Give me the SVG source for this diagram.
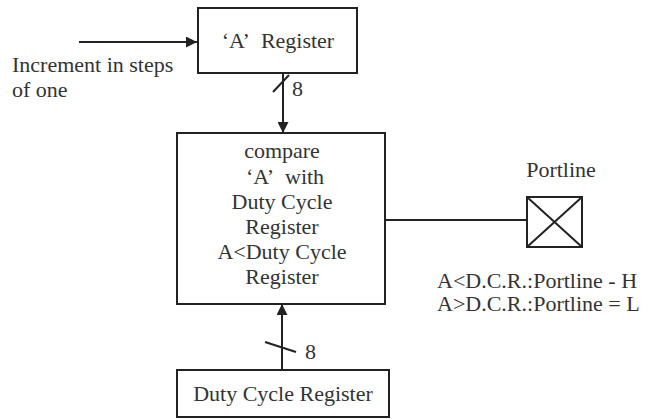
<svg xmlns="http://www.w3.org/2000/svg" width="655" height="419" viewBox="0 0 655 419">
<style>
.b{fill:#fff;stroke:#222;stroke-width:2}
.l{fill:none;stroke:#222;stroke-width:2}
text{font-family:"Liberation Serif","Times New Roman",serif;font-size:22px;fill:#333}
.c{text-anchor:middle}
</style>
<defs>
<marker id="ah" viewBox="0 0 10 10" refX="10" refY="5" markerWidth="5.5" markerHeight="5.5" orient="auto" markerUnits="strokeWidth">
<path d="M0,0 L10,5 L0,10 z" fill="#222"/>
</marker>
</defs>
<g id="connectors">
<line class="l" x1="79" y1="42" x2="197" y2="42" marker-end="url(#ah)"/>
<line class="l" x1="283" y1="73" x2="283" y2="133" marker-end="url(#ah)"/>
<line class="l" x1="273" y1="92" x2="289" y2="75"/>
<text x="292" y="96">8</text>
<line class="l" x1="282" y1="370" x2="282" y2="304" marker-end="url(#ah)"/>
<line class="l" x1="265" y1="342" x2="296" y2="352"/>
<text x="305" y="359">8</text>
<line class="l" x1="385" y1="220" x2="527" y2="220"/>
</g>
<g id="input-label">
<text x="12" y="72">Increment in steps</text>
<text x="12" y="97">of one</text>
</g>
<g id="a-register">
<rect class="b" x="198" y="8" width="159" height="65"/>
<text class="c" x="278" y="48">‘A’&#160; Register</text>
</g>
<g id="compare">
<rect class="b" x="177" y="133" width="208" height="171"/>
<text class="c" x="282" y="158">compare</text>
<text class="c" x="285" y="184">‘A’&#160; with</text>
<text class="c" x="282" y="209">Duty Cycle</text>
<text class="c" x="282" y="234">Register</text>
<text class="c" x="282" y="259">A&lt;Duty Cycle</text>
<text class="c" x="282" y="284">Register</text>
</g>
<g id="portline">
<text class="c" x="561" y="177">Portline</text>
<rect class="b" x="527" y="197" width="55" height="50"/>
<line class="l" x1="527" y1="197" x2="582" y2="247"/>
<line class="l" x1="582" y1="197" x2="527" y2="247"/>
</g>
<g id="conditions">
<text x="437" y="288">A&lt;D.C.R.:Portline - H</text>
<text x="437" y="311">A&gt;D.C.R.:Portline = L</text>
</g>
<g id="duty-cycle-register">
<rect class="b" x="177" y="370" width="212" height="47"/>
<text class="c" x="283" y="401">Duty Cycle Register</text>
</g>
</svg>
